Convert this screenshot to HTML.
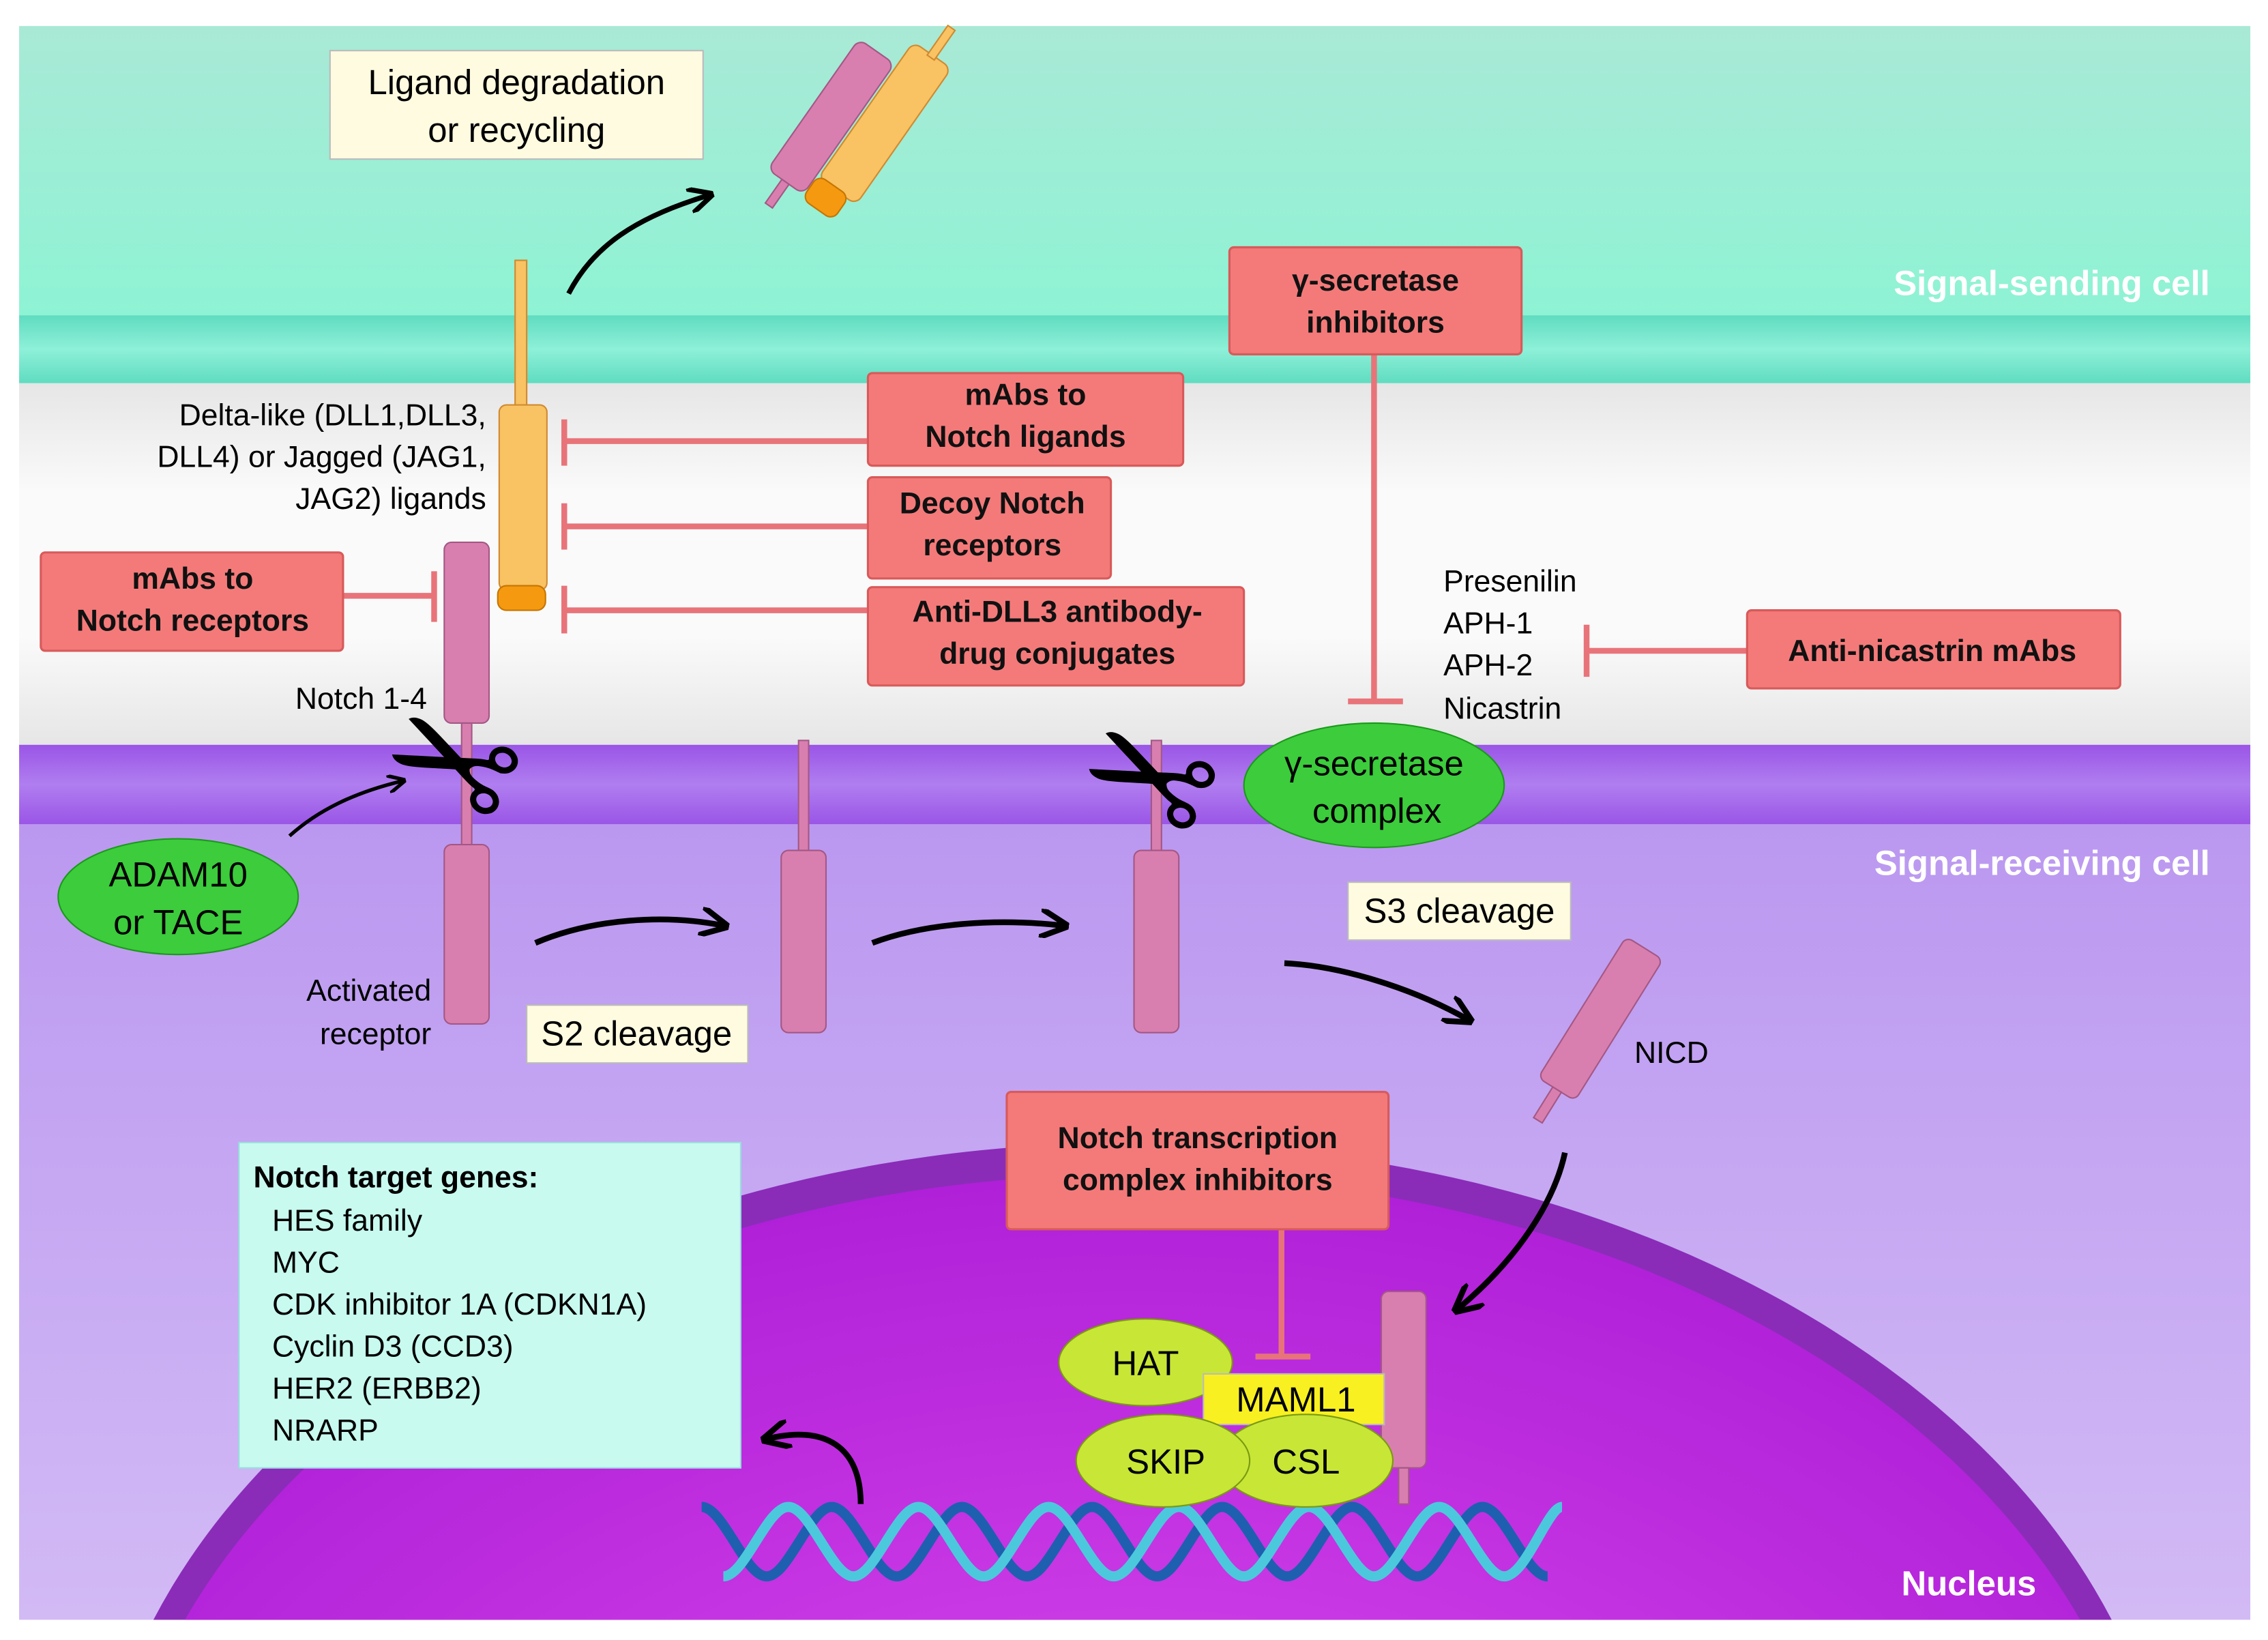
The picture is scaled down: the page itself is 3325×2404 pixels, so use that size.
<!DOCTYPE html>
<html><head><meta charset="utf-8"><style>
html,body{margin:0;padding:0;background:#fff;width:3325px;height:2404px;overflow:hidden}
svg{display:block}
text{font-family:"Liberation Sans",sans-serif}
</style></head><body>
<svg width="3325" height="2404" viewBox="0 0 1568 1134" xmlns="http://www.w3.org/2000/svg">
<defs>
<linearGradient id="top" x1="0" y1="0" x2="0" y2="1"><stop offset="0" stop-color="#a9e9d6"/><stop offset="1" stop-color="#8ef3d4"/></linearGradient>
<linearGradient id="mem1" x1="0" y1="0" x2="0" y2="1"><stop offset="0" stop-color="#5fdcc0"/><stop offset="0.5" stop-color="#8ef0d8"/><stop offset="1" stop-color="#5fdcc0"/></linearGradient>
<linearGradient id="gap" x1="0" y1="0" x2="0" y2="1"><stop offset="0" stop-color="#e6e6e6"/><stop offset="0.3" stop-color="#fafafa"/><stop offset="0.7" stop-color="#fafafa"/><stop offset="1" stop-color="#e6e6e6"/></linearGradient>
<linearGradient id="mem2" x1="0" y1="0" x2="0" y2="1"><stop offset="0" stop-color="#9a55e6"/><stop offset="0.5" stop-color="#b07ef0"/><stop offset="1" stop-color="#9a55e6"/></linearGradient>
<linearGradient id="cyto" x1="0" y1="0" x2="0" y2="1"><stop offset="0" stop-color="#bb98f0"/><stop offset="1" stop-color="#d2baf5"/></linearGradient>
<radialGradient id="nuc" cx="0.5" cy="0.6" r="0.6"><stop offset="0" stop-color="#e050f0"/><stop offset="1" stop-color="#b020d8"/></radialGradient>
<marker id="ar" viewBox="0 0 10 10" refX="8" refY="5" markerWidth="5" markerHeight="5" orient="auto"><path d="M0,0 L10,5 L0,10" fill="none" stroke="#000" stroke-width="2"/></marker>
</defs>
<rect x="13" y="18" width="1543" height="200" fill="url(#top)"/>
<rect x="13" y="218" width="1543" height="47" fill="url(#mem1)"/>
<rect x="13" y="265" width="1543" height="250" fill="url(#gap)"/>
<rect x="13" y="515" width="1543" height="55" fill="url(#mem2)"/>
<rect x="13" y="570" width="1543" height="550" fill="url(#cyto)"/>
<clipPath id="cl"><rect x="13" y="570" width="1543" height="550"/></clipPath>
<g clip-path="url(#cl)">
<ellipse cx="783" cy="1290" rx="720" ry="500" fill="#8a2cb8"/>
<ellipse cx="783" cy="1300" rx="705" ry="488" fill="url(#nuc)"/>
</g>
<text x="1528" y="204" text-anchor="end" font-size="24" font-weight="bold" fill="#fff">Signal-sending cell</text>
<text x="1528" y="605" text-anchor="end" font-size="24" font-weight="bold" fill="#fff">Signal-receiving cell</text>
<text x="1408" y="1103" text-anchor="end" font-size="24" font-weight="bold" fill="#fff">Nucleus</text>

<g transform="translate(595,95) rotate(35)">
<rect x="-40" y="-55" width="30" height="110" rx="6" fill="#d97fb0" stroke="#a35885"/>
<rect x="-28" y="55" width="6" height="20" fill="#d97fb0" stroke="#a35885"/>
<rect x="-8" y="-75" width="32" height="115" rx="6" fill="#f9c263" stroke="#d08a30"/>
<rect x="-9" y="38" width="26" height="20" rx="6" fill="#f59a10" stroke="#c67500"/>
<rect x="5" y="-98" width="6" height="25" fill="#f9c263" stroke="#d08a30"/>
</g>
<path d="M393,203 C410,170 440,150 490,135" fill="none" stroke="#000" stroke-width="3.5" marker-end="url(#ar)"/>
<rect x="228" y="35" width="258" height="75" fill="#fffbe0" stroke="#bbb"/>
<text x="357" y="65" text-anchor="middle" font-size="24">Ligand degradation</text>
<text x="357" y="98" text-anchor="middle" font-size="24">or recycling</text>

<rect x="356" y="180" width="8" height="100" fill="#f9c263" stroke="#d08a30"/>
<rect x="345" y="280" width="33" height="128" rx="5" fill="#f9c263" stroke="#d08a30"/>
<rect x="344" y="405" width="33" height="17" rx="6" fill="#f59a10" stroke="#c67500"/>
<text x="336" y="294" text-anchor="end" font-size="21">Delta-like (DLL1,DLL3,</text>
<text x="336" y="323" text-anchor="end" font-size="21">DLL4) or Jagged (JAG1,</text>
<text x="336" y="352" text-anchor="end" font-size="21">JAG2) ligands</text>

<g fill="#d97fb0" stroke="#a35885">
<rect x="307" y="375" width="31" height="125" rx="5"/>
<rect x="319" y="500" width="7" height="85"/>
<rect x="307" y="584" width="31" height="124" rx="5"/>
<rect x="552" y="512" width="7" height="78"/>
<rect x="540" y="588" width="31" height="126" rx="5"/>
<rect x="796" y="512" width="7" height="78"/>
<rect x="784" y="588" width="31" height="126" rx="5"/>
<g transform="translate(1100,715) rotate(32)"><rect x="-15" y="-70" width="30" height="115" rx="5"/><rect x="-3" y="45" width="7" height="25"/></g>
</g>
<text x="295" y="490" text-anchor="end" font-size="21">Notch 1-4</text>
<text x="298" y="692" text-anchor="end" font-size="21">Activated</text>
<text x="298" y="722" text-anchor="end" font-size="21">receptor</text>
<text x="1130" y="735" font-size="21">NICD</text>
<text x="998" y="409" font-size="21">Presenilin</text>
<text x="998" y="438" font-size="21">APH-1</text>
<text x="998" y="467" font-size="21">APH-2</text>
<text x="998" y="497" font-size="21">Nicastrin</text>

<text x="0" y="0" text-anchor="middle" font-size="110" transform="translate(330,490) rotate(205)">✂</text>
<text x="0" y="0" text-anchor="middle" font-size="110" transform="translate(812,500) rotate(205)">✂</text>

<g stroke="#e8747a" stroke-width="4" fill="none">
<path d="M600,305 H390 M390,290 V322"/>
<path d="M600,364 H390 M390,348 V380"/>
<path d="M600,422 H390 M390,405 V438"/>
<path d="M237,412 H300 M300,395 V430"/>
<path d="M950,245 V485 M932,485 H970"/>
<path d="M1208,450 H1097 M1097,432 V468"/>
<path d="M886,850 V938 M868,938 H906"/>
</g>

<g fill="#f47a7a" stroke="#d85a5a" stroke-width="1.5">
<rect x="850" y="171" width="202" height="74" rx="3"/>
<rect x="600" y="258" width="218" height="64" rx="3"/>
<rect x="600" y="330" width="168" height="70" rx="3"/>
<rect x="600" y="406" width="260" height="68" rx="3"/>
<rect x="28" y="382" width="209" height="68" rx="3"/>
<rect x="1208" y="422" width="258" height="54" rx="3"/>
<rect x="696" y="755" width="264" height="95" rx="3"/>
</g>
<g font-size="21" font-weight="bold" text-anchor="middle" fill="#111">
<text x="951" y="201">γ-secretase</text><text x="951" y="230">inhibitors</text>
<text x="709" y="280">mAbs to</text><text x="709" y="309">Notch ligands</text>
<text x="686" y="355">Decoy Notch</text><text x="686" y="384">receptors</text>
<text x="731" y="430">Anti-DLL3 antibody-</text><text x="731" y="459">drug conjugates</text>
<text x="133" y="407">mAbs to</text><text x="133" y="436">Notch receptors</text>
<text x="1336" y="457">Anti-nicastrin mAbs</text>
<text x="828" y="794">Notch transcription</text><text x="828" y="823">complex inhibitors</text>
</g>

<ellipse cx="123" cy="620" rx="83" ry="40" fill="#3ccc3c" stroke="#1a9a1a"/>
<text x="123" y="613" text-anchor="middle" font-size="24">ADAM10</text>
<text x="123" y="646" text-anchor="middle" font-size="24">or TACE</text>
<ellipse cx="950" cy="543" rx="90" ry="43" fill="#3ccc3c" stroke="#1a9a1a"/>
<text x="950" y="536" text-anchor="middle" font-size="24">γ-secretase</text>
<text x="952" y="569" text-anchor="middle" font-size="24">complex</text>
<path d="M200,578 C220,560 245,548 278,540" fill="none" stroke="#000" stroke-width="2.5" marker-end="url(#ar)"/>

<rect x="364" y="695" width="153" height="40" fill="#fffbe0" stroke="#bbb"/>
<text x="440" y="723" text-anchor="middle" font-size="24">S2 cleavage</text>
<rect x="932" y="610" width="154" height="40" fill="#fffbe0" stroke="#bbb"/>
<text x="1009" y="638" text-anchor="middle" font-size="24">S3 cleavage</text>

<g fill="none" stroke="#000" stroke-width="4" marker-end="url(#ar)">
<path d="M370,652 C410,635 460,632 500,640"/>
<path d="M603,652 C640,638 690,635 735,640"/>
<path d="M888,666 C930,668 980,685 1015,705"/>
<path d="M1082,797 C1075,830 1050,870 1008,905"/>
<path d="M595,1040 C595,1000 570,985 530,995"/>
</g>

<rect x="165" y="790" width="347" height="225" fill="#c8faf0" stroke="#9dd"/>
<text x="175" y="821" font-size="21" font-weight="bold">Notch target genes:</text>
<g font-size="21"><text x="188" y="851">HES family</text><text x="188" y="880">MYC</text><text x="188" y="909">CDK inhibitor 1A  (CDKN1A)</text><text x="188" y="938">Cyclin D3 (CCD3)</text><text x="188" y="967">HER2 (ERBB2)</text><text x="188" y="996">NRARP</text></g>

<g fill="none" stroke-width="7">
<path d="M485,1042 C500,1042 515,1090 530,1090 S560,1042 575,1042 S605,1090 620,1090 S650,1042 665,1042 S695,1090 710,1090 S740,1042 755,1042 S785,1090 800,1090 S830,1042 845,1042 S875,1090 890,1090 S920,1042 935,1042 S965,1090 980,1090 S1010,1042 1025,1042 S1055,1090 1070,1090" stroke="#1e5fb0"/>
<path d="M500,1090 C515,1090 530,1042 545,1042 S575,1090 590,1090 S620,1042 635,1042 S665,1090 680,1090 S710,1042 725,1042 S755,1090 770,1090 S800,1042 815,1042 S845,1090 860,1090 S890,1042 905,1042 S935,1090 950,1090 S980,1042 995,1042 S1025,1090 1040,1090 S1070,1042 1080,1042" stroke="#4cc8dc"/>
</g>

<rect x="955" y="893" width="31" height="122" rx="5" fill="#d97fb0" stroke="#a35885"/>
<rect x="967" y="1015" width="7" height="25" fill="#d97fb0" stroke="#a35885"/>
<ellipse cx="792" cy="942" rx="60" ry="30" fill="#c8e636" stroke="#7a9a10"/>
<text x="792" y="951" text-anchor="middle" font-size="24">HAT</text>
<rect x="832" y="950" width="125" height="35" fill="#f8f020" stroke="#bbb"/>
<text x="896" y="976" text-anchor="middle" font-size="24">MAML1</text>
<ellipse cx="903" cy="1010" rx="60" ry="32" fill="#c8e636" stroke="#7a9a10"/>
<text x="903" y="1019" text-anchor="middle" font-size="24">CSL</text>
<ellipse cx="804" cy="1010" rx="60" ry="32" fill="#c8e636" stroke="#7a9a10"/>
<text x="806" y="1019" text-anchor="middle" font-size="24">SKIP</text>
</svg>
</body></html>
